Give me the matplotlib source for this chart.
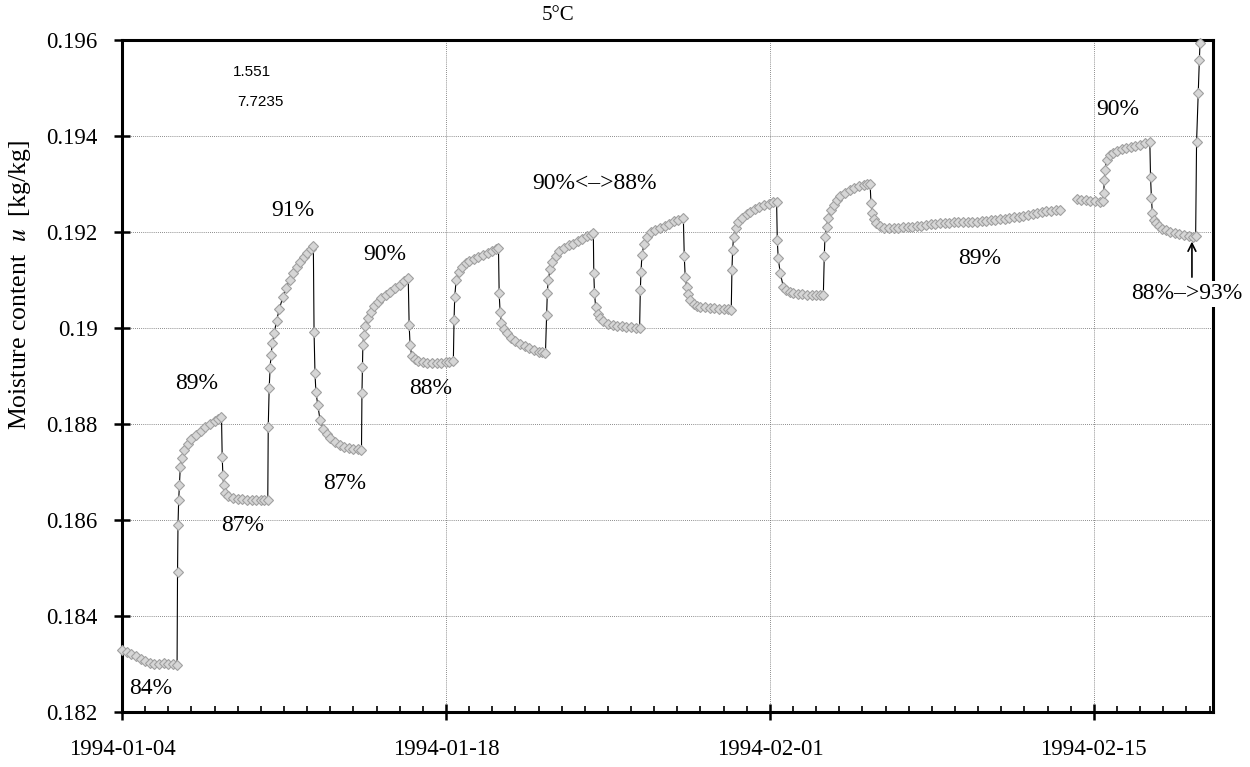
import numpy as np
import pandas as pd
import matplotlib
matplotlib.use("Agg")
import matplotlib.pyplot as plt
import matplotlib.dates as mdates

# ---- data: days after 1994-01-04 00:00 and moisture content u [kg/kg] ----
days = [
    0.0, 0.2, 0.4, 0.6, 0.8, 1.0, 1.2, 1.4, 1.6, 1.8, 2.0, 2.2, 2.38,
    2.40, 2.42, 2.45, 2.48, 2.52, 2.6, 2.7, 2.85, 3.0, 3.2, 3.4, 3.6, 3.8, 4.0, 4.15, 4.3,
    4.33, 4.36, 4.39, 4.45, 4.6, 4.8, 5.0, 5.2, 5.4, 5.6, 5.8, 6.0, 6.15, 6.3,
    6.32, 6.36, 6.40, 6.44, 6.50, 6.58, 6.68, 6.8, 6.95, 7.1, 7.25, 7.4, 7.55, 7.7, 7.85, 8.0, 8.15, 8.27,
    8.30, 8.34, 8.38, 8.46, 8.56, 8.7, 8.85, 9.0, 9.2, 9.4, 9.6, 9.8, 10.0, 10.2, 10.35,
    10.37, 10.39, 10.41, 10.45, 10.52, 10.62, 10.75, 10.9, 11.05, 11.2, 11.4, 11.6, 11.8, 12.0, 12.2, 12.37,
    12.41, 12.45, 12.52, 12.65, 12.8, 13.0, 13.2, 13.4, 13.6, 13.8, 14.0, 14.15, 14.32,
    14.35, 14.38, 14.44, 14.55, 14.7, 14.85, 15.0, 15.2, 15.4, 15.6, 15.8, 16.0, 16.15, 16.27,
    16.30, 16.34, 16.40, 16.5, 16.62, 16.8, 17.0, 17.2, 17.4, 17.6, 17.8, 18.0, 18.15, 18.3,
    18.35, 18.38, 18.42, 18.5, 18.6, 18.75, 18.9, 19.1, 19.3, 19.5, 19.7, 19.9, 20.1, 20.25, 20.37,
    20.39, 20.42, 20.47, 20.56, 20.66, 20.8, 21.0, 21.2, 21.4, 21.6, 21.8, 22.0, 22.2, 22.37,
    22.40, 22.43, 22.47, 22.56, 22.67, 22.85, 23.05, 23.25, 23.45, 23.65, 23.85, 24.05, 24.26,
    24.30, 24.34, 24.40, 24.47, 24.55, 24.7, 24.85, 25.0, 25.2, 25.4, 25.6, 25.8, 26.0, 26.18, 26.33,
    26.36, 26.39, 26.43, 26.52, 26.63, 26.8, 27.0, 27.15, 27.35, 27.55, 27.75, 27.95, 28.15, 28.29,
    28.32, 28.36, 28.45, 28.58, 28.7, 28.85, 29.0, 29.2, 29.4, 29.6, 29.8, 30.0, 30.15, 30.31,
    30.35, 30.38, 30.45, 30.52, 30.62, 30.75, 30.9, 31.05, 31.25, 31.45, 31.65, 31.85, 32.05, 32.2, 32.33,
    32.37, 32.42, 32.5, 32.6, 32.75, 32.95, 33.15, 33.35, 33.55, 33.75, 33.95, 34.15, 34.35, 34.55,
    34.75, 34.95, 35.15, 35.35, 35.55, 35.75, 35.95, 36.15, 36.35, 36.55, 36.75, 36.95, 37.15, 37.35,
    37.55, 37.75, 37.95, 38.15, 38.35, 38.55, 38.75, 38.95, 39.15, 39.35, 39.55, 39.75, 39.95, 40.15,
    40.35, 40.54,
    40.9,
    41.26, 41.45, 41.65, 41.85, 42.05, 42.25, 42.40,
    42.43, 42.45, 42.48, 42.55, 42.7, 42.84, 43.0, 43.2, 43.41, 43.6, 43.8, 43.99, 44.2, 44.42,
    44.45, 44.49, 44.53, 44.60, 44.68, 44.8, 44.95, 45.1, 45.3, 45.5, 45.7, 45.9, 46.1, 46.3, 46.40,
    46.44, 46.51, 46.56, 46.59,
]
moisture = [
    0.18330, 0.18326, 0.18321, 0.18316, 0.18311, 0.18306, 0.18302, 0.18300, 0.18301, 0.18302, 0.18300, 0.18299, 0.18298,
    0.18492, 0.18590, 0.18642, 0.18673, 0.18711, 0.18730, 0.18745, 0.18758, 0.18768, 0.18777, 0.18786, 0.18794, 0.18801, 0.18807, 0.18811, 0.18815,
    0.18732, 0.18694, 0.18673, 0.18656, 0.18649, 0.18646, 0.18644, 0.18643, 0.18642, 0.18642, 0.18641, 0.18641, 0.18641, 0.18642,
    0.18794, 0.18874, 0.18916, 0.18944, 0.18968, 0.18990, 0.19015, 0.19040, 0.19064, 0.19084, 0.19101, 0.19115, 0.19127, 0.19138, 0.19148, 0.19157, 0.19165, 0.19170,
    0.18992, 0.18906, 0.18867, 0.18840, 0.18808, 0.18790, 0.18779, 0.18771, 0.18763, 0.18756, 0.18752, 0.18749, 0.18748, 0.18747, 0.18746,
    0.18864, 0.18919, 0.18965, 0.18985, 0.19005, 0.19020, 0.19034, 0.19045, 0.19055, 0.19062, 0.19069, 0.19076, 0.19083, 0.19090, 0.19098, 0.19104,
    0.19006, 0.18965, 0.18942, 0.18935, 0.18932, 0.18930, 0.18928, 0.18927, 0.18927, 0.18928, 0.18929, 0.18930, 0.18931,
    0.19017, 0.19065, 0.19100, 0.19117, 0.19128, 0.19135, 0.19139, 0.19143, 0.19147, 0.19152, 0.19157, 0.19161, 0.19164, 0.19167,
    0.19072, 0.19034, 0.19010, 0.18998, 0.18989, 0.18980, 0.18973, 0.18967, 0.18963, 0.18959, 0.18955, 0.18951, 0.18949, 0.18947,
    0.19027, 0.19072, 0.19100, 0.19122, 0.19138, 0.19151, 0.19160, 0.19167, 0.19172, 0.19176, 0.19181, 0.19186, 0.19191, 0.19194, 0.19197,
    0.19114, 0.19072, 0.19044, 0.19030, 0.19020, 0.19014, 0.19009, 0.19006, 0.19005, 0.19004, 0.19003, 0.19002, 0.19001, 0.19000,
    0.19079, 0.19117, 0.19152, 0.19175, 0.19190, 0.19199, 0.19205, 0.19208, 0.19213, 0.19217, 0.19222, 0.19226, 0.19229,
    0.19149, 0.19107, 0.19086, 0.19070, 0.19058, 0.19050, 0.19046, 0.19044, 0.19043, 0.19042, 0.19041, 0.19040, 0.19039, 0.19039, 0.19038,
    0.19121, 0.19163, 0.19190, 0.19208, 0.19221, 0.19230, 0.19238, 0.19242, 0.19247, 0.19252, 0.19256, 0.19259, 0.19262, 0.19263,
    0.19183, 0.19145, 0.19114, 0.19086, 0.19080, 0.19076, 0.19073, 0.19071, 0.19070, 0.19069, 0.19069, 0.19069, 0.19069, 0.19069,
    0.19149, 0.19190, 0.19211, 0.19230, 0.19246, 0.19257, 0.19266, 0.19274, 0.19281, 0.19287, 0.19291, 0.19295, 0.19298, 0.19300, 0.19301,
    0.19260, 0.19240, 0.19228, 0.19218, 0.19212, 0.19209, 0.19208, 0.19208, 0.19209, 0.19210, 0.19211, 0.19211, 0.19212, 0.19213,
    0.19215, 0.19216, 0.19217, 0.19218, 0.19218, 0.19219, 0.19220, 0.19221, 0.19221, 0.19221, 0.19221, 0.19221, 0.19222, 0.19223,
    0.19225, 0.19226, 0.19227, 0.19228, 0.19229, 0.19231, 0.19232, 0.19234, 0.19236, 0.19238, 0.19240, 0.19242, 0.19243, 0.19244,
    0.19245, 0.19246,
    np.nan,
    0.19268, 0.19267, 0.19266, 0.19265, 0.19264, 0.19263, 0.19264,
    0.19281, 0.19308, 0.19329, 0.19350, 0.19360, 0.19364, 0.19368, 0.19372, 0.19374, 0.19377, 0.19379, 0.19381, 0.19385, 0.19388,
    0.19315, 0.19270, 0.19239, 0.19225, 0.19218, 0.19212, 0.19207, 0.19204, 0.19201, 0.19198, 0.19196, 0.19193, 0.19191, 0.19190, 0.19192,
    0.19388, 0.19489, 0.19558, 0.19594,
]

start_date = "1994-01-04"
major_dates = ["1994-01-04", "1994-01-18", "1994-02-01", "1994-02-15"]
x_end_days = 47.15

# annotation texts (RH steps) with positions (day, value)
rh_labels = ["84%", "89%", "87%", "91%", "87%", "90%", "88%", "90%<\u2013>88%", "89%", "90%"]
rh_days = [1.25, 3.24, 5.23, 7.39, 9.64, 11.37, 13.35, 20.44, 37.08, 43.04]
rh_vals = [0.18248, 0.18885, 0.18588, 0.19244, 0.18677, 0.19154, 0.18875, 0.19302, 0.19144, 0.19456]

# ---- plot ----
plt.rcParams["mathtext.fontset"] = "stix"
serif = ["Liberation Serif", "DejaVu Serif"]

fig = plt.figure(figsize=(12.5, 7.67), dpi=100)
ax = fig.add_axes([122 / 1250, 1 - 712 / 767, (1213 - 122) / 1250, (712 - 40) / 767])

t0 = pd.Timestamp(start_date)
x = t0 + pd.to_timedelta(np.array(days), unit="D")
ax.plot(x, moisture, color="black", lw=0.8, marker="D", ms=4.8,
        mfc="#d6d6d6", mec="#a0a0a0", mew=0.8, zorder=3, clip_on=False)

ax.set_xlim(t0, t0 + pd.Timedelta(days=x_end_days))
ax.set_ylim(0.182, 0.196)
ax.set_yticks(np.arange(0.182, 0.1961, 0.002))
ax.set_yticklabels(["0.182", "0.184", "0.186", "0.188", "0.19", "0.192", "0.194", "0.196"])
ax.set_xticks([pd.Timestamp(d) for d in major_dates])
ax.xaxis.set_minor_locator(mdates.DayLocator())
ax.xaxis.set_major_formatter(mdates.DateFormatter("%Y-%m-%d"))

for lab in ax.get_xticklabels() + ax.get_yticklabels():
    lab.set_fontfamily(serif)
    lab.set_fontsize(16.5)

ax.tick_params(axis="both", which="major", direction="inout", length=11, width=1.8, color="black")
ax.tick_params(axis="x", which="major", pad=14)
ax.tick_params(axis="y", which="major", pad=12)
ax.tick_params(axis="x", which="minor", direction="in", length=4, width=1.2)

for s in ax.spines.values():
    s.set_linewidth(2.2)
    s.set_color("black")

ax.grid(True, which="major", linestyle=(0, (1, 1.5)), color="#666666", linewidth=0.6)
ax.set_axisbelow(True)

# title
fig.text(558 / 1250, 1 - 15 / 767, "5\u00b0C", ha="center", va="center",
         fontsize=15, family=serif)

# y label
fig.text(20 / 1250, 1 - 285 / 767, "Moisture content  $\\mathbf{\\mathit{u}}$  [kg/kg]",
         rotation=90, ha="center", va="center", fontsize=18.5, family=serif)

# small numbers
ax.text(0.102, 0.952, "1.551", transform=ax.transAxes, fontsize=11,
        family=["Liberation Sans", "DejaVu Sans"], ha="left", va="center")
ax.text(0.106, 0.907, "7.7235", transform=ax.transAxes, fontsize=11,
        family=["Liberation Sans", "DejaVu Sans"], ha="left", va="center")

for lab, d, v in zip(rh_labels, rh_days, rh_vals):
    ax.text(t0 + pd.Timedelta(days=d), v, lab, ha="center", va="center",
            fontsize=17, family=serif, zorder=5)

# arrow + label for final step
arrow_day = 46.24
ax.annotate("", xy=(t0 + pd.Timedelta(days=arrow_day), 0.19180),
            xytext=(t0 + pd.Timedelta(days=arrow_day), 0.19106),
            arrowprops=dict(arrowstyle="->", color="black", lw=1.2,
                            mutation_scale=14, shrinkA=0, shrinkB=0))
ax.text(t0 + pd.Timedelta(days=46.02), 0.19071, "88%\u2013>93%", ha="center", va="center",
        fontsize=17, family=serif, zorder=6,
        bbox=dict(boxstyle="square,pad=0.1", fc="white", ec="none"), clip_on=False)

fig.savefig("out.png", dpi=100)
